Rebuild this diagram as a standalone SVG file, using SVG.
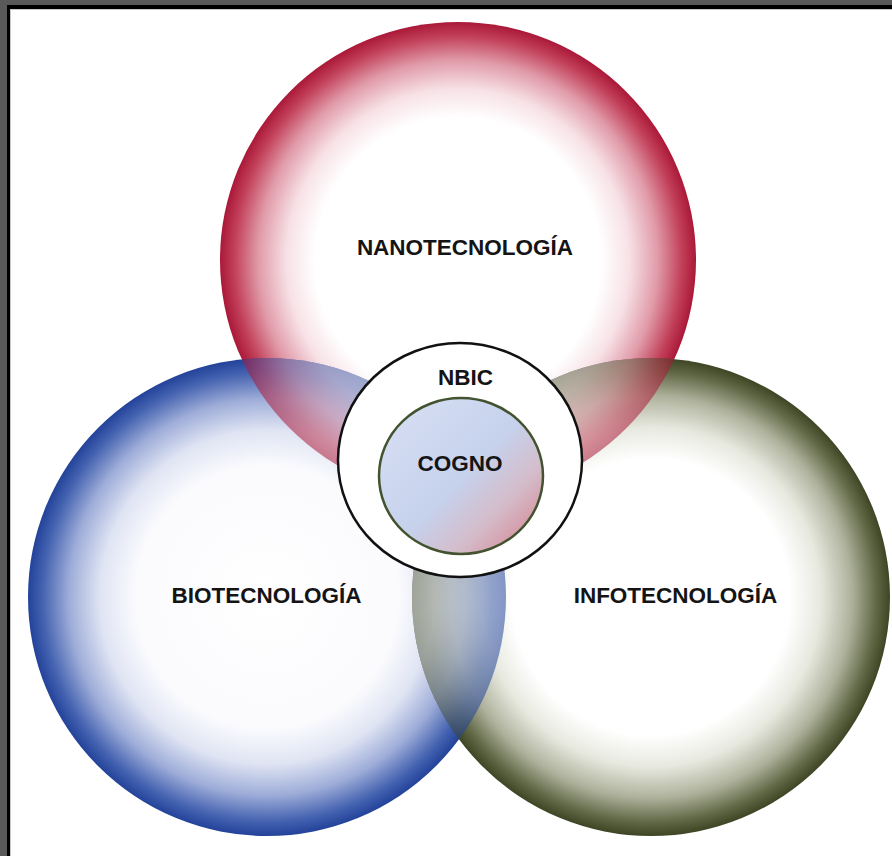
<svg xmlns="http://www.w3.org/2000/svg" width="892" height="856" viewBox="0 0 892 856">
  <defs>
    <radialGradient id="gradNano" cx="0.5" cy="0.5" r="0.5">
      <stop offset="0" stop-color="#ffffff"/>
      <stop offset="0.6" stop-color="#ffffff"/>
      <stop offset="0.72" stop-color="#f7e1e6"/>
      <stop offset="0.84" stop-color="#e09aa8"/>
      <stop offset="0.94" stop-color="#c2405a"/>
      <stop offset="1" stop-color="#aa1838"/>
    </radialGradient>
    <radialGradient id="gradBio" cx="0.5" cy="0.5" r="0.5">
      <stop offset="0" stop-color="#ffffff"/>
      <stop offset="0.55" stop-color="#fbfbfe"/>
      <stop offset="0.7" stop-color="#dfe4f3"/>
      <stop offset="0.83" stop-color="#9dacd8"/>
      <stop offset="0.94" stop-color="#4462b0"/>
      <stop offset="1" stop-color="#23439a"/>
    </radialGradient>
    <radialGradient id="gradInfo" cx="0.5" cy="0.5" r="0.5">
      <stop offset="0" stop-color="#ffffff"/>
      <stop offset="0.58" stop-color="#ffffff"/>
      <stop offset="0.71" stop-color="#e7e9df"/>
      <stop offset="0.84" stop-color="#aeb29c"/>
      <stop offset="0.94" stop-color="#636a48"/>
      <stop offset="1" stop-color="#3d4524"/>
    </radialGradient>
    <linearGradient id="gradCogno" x1="0.15" y1="0.15" x2="0.9" y2="0.85">
      <stop offset="0" stop-color="#d3dcf2"/>
      <stop offset="0.5" stop-color="#c6d1ec"/>
      <stop offset="0.78" stop-color="#d4bdcb"/>
      <stop offset="1" stop-color="#d697a4"/>
    </linearGradient>
    <clipPath id="clipBio"><circle cx="267" cy="597" r="239"/></clipPath>
    <clipPath id="clipInfo"><circle cx="651" cy="597" r="239"/></clipPath>
    <style>
      .label { font-family: "Liberation Sans", Arial, sans-serif; font-weight: bold; font-size: 22.5px; fill: #141414; text-anchor: middle; }
      .blend { opacity: 0.55; }
    </style>
  </defs>

  <!-- frame -->
  <rect x="0" y="0" width="892" height="856" fill="#595959"/>
  <rect x="7" y="5" width="900" height="900" fill="#000000"/>
  <rect x="10" y="9" width="900" height="900" fill="#c8c8c8"/>
  <rect x="11" y="10" width="900" height="900" fill="#ffffff"/>

  <!-- three technology circles -->
  <g id="nano">
    <circle cx="458" cy="260" r="238" fill="url(#gradNano)"/>
  </g>
  <g id="bio">
    <circle cx="267" cy="597" r="239" fill="url(#gradBio)"/>
  </g>
  <g id="info">
    <circle cx="651" cy="597" r="239" fill="url(#gradInfo)"/>
  </g>

  <!-- translucent overlaps -->
  <g id="overlaps">
    <circle class="blend" cx="458" cy="260" r="238" fill="url(#gradNano)" clip-path="url(#clipBio)"/>
    <circle class="blend" cx="458" cy="260" r="238" fill="url(#gradNano)" clip-path="url(#clipInfo)"/>
    <circle class="blend" cx="267" cy="597" r="239" fill="url(#gradBio)" clip-path="url(#clipInfo)"/>
  </g>

  <g id="nbic">
    <ellipse cx="460" cy="460" rx="122" ry="117" fill="#ffffff" stroke="#111111" stroke-width="2.5"/>
  </g>
  <g id="cogno">
    <ellipse cx="461" cy="476" rx="82" ry="78" fill="url(#gradCogno)" stroke="#435330" stroke-width="2.5"/>
  </g>

  <g id="labels">
    <text class="label" x="465" y="255">NANOTECNOLOGÍA</text>
    <text class="label" x="266.5" y="603">BIOTECNOLOGÍA</text>
    <text class="label" x="675.5" y="603">INFOTECNOLOGÍA</text>
    <text class="label" x="465.5" y="385">NBIC</text>
    <text class="label" x="460" y="471">COGNO</text>
  </g>
</svg>
